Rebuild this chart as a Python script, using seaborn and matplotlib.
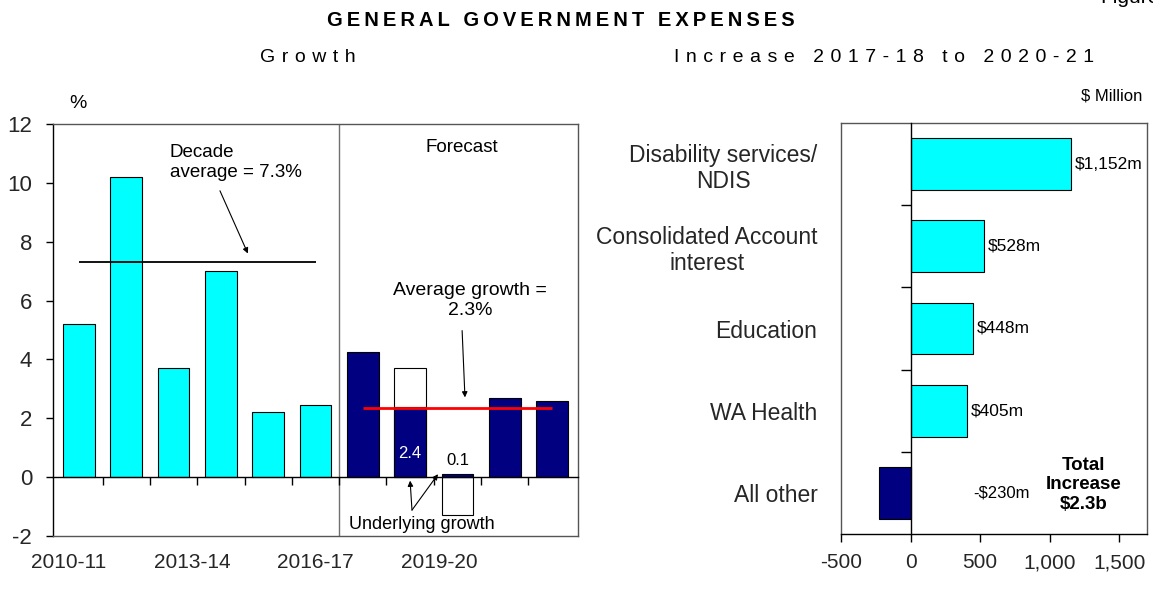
import matplotlib
matplotlib.use('Agg')
import matplotlib.pyplot as plt
import seaborn as sns
import pandas as pd
import numpy as np

# ---------------- data ----------------
years = ['2010-11', '2011-12', '2012-13', '2013-14', '2014-15', '2015-16',
         '2016-17', '2017-18', '2018-19', '2019-20', '2020-21']
growth = [5.2, 10.2, 3.7, 7.0, 2.2, 2.45, 4.25, 2.4, 0.1, 2.7, 2.6]
period = ['Actual'] * 6 + ['Forecast'] * 5
headline_years = ['2017-18', '2018-19']
headline_growth = [3.7, -1.3]
decade_avg = 7.3
forecast_avg = 2.35
xtick_labels = ['2010-11', '2013-14', '2016-17', '2019-20']
xtick_pos = [-0.23, 2.39, 4.99, 7.61]

categories = ['Disability services/\nNDIS', 'Consolidated Account\ninterest',
              'Education', 'WA Health', 'All other']
increase = [1152, 528, 448, 405, -230]
increase_labels = ['$1,152m', '$528m', '$448m', '$405m', '-$230m']
right_ticks = [-500, 0, 500, 1000, 1500]

CYAN = '#00FFFF'
NAVY = '#000080'

sns.set_theme(style='white')
plt.rcParams['font.family'] = ['Liberation Sans', 'DejaVu Sans']
plt.rcParams['text.color'] = 'black'
plt.rcParams['axes.unicode_minus'] = False

W, H = 1153, 599
fig = plt.figure(figsize=(W / 100, H / 100), dpi=100)


def fx(px):
    return px / W


def fy(py):
    return 1 - py / H


def spaced(s, sp='\u2009'):
    return sp.join(s)


# ---------------- left panel ----------------
ax = fig.add_axes([fx(53), fy(536), fx(578 - 53), (536 - 124) / H])
df = pd.DataFrame({'year': years, 'growth': growth, 'period': period})
hdf = pd.DataFrame({'year': headline_years, 'growth': headline_growth})

sns.barplot(data=hdf, x='year', y='growth', order=years, color='white',
            saturation=1, edgecolor='black', linewidth=0.8, width=0.67, ax=ax)
sns.barplot(data=df, x='year', y='growth', order=years, hue='period',
            palette={'Actual': CYAN, 'Forecast': NAVY}, dodge=False,
            saturation=1, edgecolor='black', linewidth=0.8, width=0.67,
            legend=False, ax=ax)

ax.set_xlim(-0.55, 10.55)
ax.set_ylim(-2, 12)
ax.set_yticks(np.arange(-2, 13, 2))
ax.set_xticks(xtick_pos)
ax.set_xticklabels(xtick_labels)
ax.set_xlabel('')
ax.set_ylabel('')
ax.tick_params(axis='x', length=0, pad=12, labelsize=15)
ax.tick_params(axis='y', length=5, direction='out', left=True, pad=10,
               labelsize=16, width=1, color='black')
for s in ax.spines.values():
    s.set_color('#555555')
    s.set_linewidth(1)
ax.spines['left'].set_color('black')

ax.axvline(5.5, color='#707070', lw=1, zorder=1)

# zero line with boundary ticks
ax0 = ax.twiny()
ax0.set_xlim(ax.get_xlim())
for k in ['top', 'left', 'right']:
    ax0.spines[k].set_visible(False)
ax0.spines['bottom'].set_position(('data', 0))
ax0.spines['bottom'].set_color('black')
ax0.spines['bottom'].set_linewidth(1)
ax0.xaxis.set_ticks_position('bottom')
ax0.set_xticks(np.arange(0.5, 10.5, 1))
ax0.set_xticklabels([])
ax0.tick_params(axis='x', length=6, direction='out', width=1, color='black')

# averages
ax.hlines(decade_avg, 0, 5, color='black', lw=1.3, zorder=4)
ax.hlines(forecast_avg, 6, 10, color='red', lw=2, zorder=4)

arrow = dict(arrowstyle='-|>', color='black', lw=0.8, mutation_scale=8,
             shrinkA=0, shrinkB=0)
ax.text(1.92, 10.7, 'Decade\naverage = 7.3%', ha='left', va='center', fontsize=13.5)
ax.annotate('', xy=(3.57, 7.6), xytext=(2.98, 9.73), arrowprops=arrow)
ax.text(8.1, 11.2, 'Forecast', ha='center', va='center', fontsize=13.5)
ax.text(8.27, 6.0, 'Average growth =\n2.3%', ha='center', va='center',
        multialignment='center', fontsize=14)
ax.annotate('', xy=(8.16, 2.71), xytext=(8.1, 4.98), arrowprops=arrow)
ax.text(7, 0.8, f'{growth[7]:.1f}', color='white', ha='center', va='center',
        fontsize=12)
ax.text(8, 0.57, f'{growth[8]:.1f}', color='black', ha='center', va='center',
        fontsize=12)
ax.text(7.24, -1.6, 'Underlying growth', ha='center', va='center', fontsize=13)
ax.annotate('', xy=(7.0, -0.12), xytext=(7.04, -1.12), arrowprops=arrow)
ax.annotate('', xy=(7.59, 0.1), xytext=(7.04, -1.12), arrowprops=arrow)

# ---------------- right panel ----------------
axR = fig.add_axes([fx(841), fy(534), fx(1147 - 841), (534 - 123) / H])
rdf = pd.DataFrame({'category': categories, 'increase': increase})
sns.barplot(data=rdf, y='category', x='increase', hue='category',
            palette=[CYAN] * 4 + [NAVY], orient='h', width=0.63,
            saturation=1, edgecolor='black', linewidth=0.8, legend=False,
            ax=axR)
axR.set_xlim(-500, 1700)
axR.set_ylim(4.5, -0.5)
axR.set_xticks(right_ticks)
axR.set_xticklabels([f'{v:,}' for v in right_ticks])
axR.set_xlabel('')
axR.set_ylabel('')
axR.tick_params(axis='x', length=6, direction='out', bottom=True, pad=8,
                labelsize=15, width=1, color='black')
axR.tick_params(axis='y', length=0, pad=17, labelsize=16.5)
for lab in axR.get_yticklabels():
    lab.set_multialignment('center')
for s in axR.spines.values():
    s.set_color('#555555')
    s.set_linewidth(1)
axR.spines['bottom'].set_color('black')

for i, cont in enumerate(axR.containers):
    if increase[i] >= 0:
        axR.bar_label(cont, labels=[increase_labels[i]], padding=3, fontsize=12.5)
    else:
        axR.annotate(increase_labels[i], xy=(0, i), xytext=(45, 0),
                     textcoords='offset points', ha='left', va='center',
                     fontsize=12)

axR0 = axR.twinx()
axR0.set_ylim(axR.get_ylim())
for k in ['top', 'bottom', 'right']:
    axR0.spines[k].set_visible(False)
axR0.spines['left'].set_position(('data', 0))
axR0.spines['left'].set_color('black')
axR0.spines['left'].set_linewidth(1)
axR0.yaxis.set_ticks_position('left')
axR0.set_yticks([0.5, 1.5, 2.5, 3.5])
axR0.set_yticklabels([])
axR0.tick_params(axis='y', length=7, direction='out', width=1, color='black')

axR.text(1243, 3.9, 'Total\nIncrease\n$2.3b', ha='center', va='center',
         multialignment='center', fontsize=13.5, fontweight='bold')

# ---------------- figure texts ----------------
fig.text(fx(561), fy(21), spaced('GENERAL GOVERNMENT EXPENSES'), ha='center',
         va='center', fontsize=14.5, fontweight='bold')
fig.text(fx(308), fy(58), spaced('Growth', '\u2004'), ha='center', va='center',
         fontsize=14)
fig.text(fx(884), fy(58), spaced('Increase 2017-18 to 2020-21', '\u2004'),
         ha='center', va='center', fontsize=14)
fig.text(fx(1142), fy(96), '$ Million', ha='right', va='center', fontsize=12)
fig.text(fx(78), fy(103), '%', ha='center', va='center', fontsize=14)
fig.text(fx(1100), fy(3), 'Figure', ha='left', va='baseline', fontsize=15)

fig.savefig('out.png', dpi=100)
